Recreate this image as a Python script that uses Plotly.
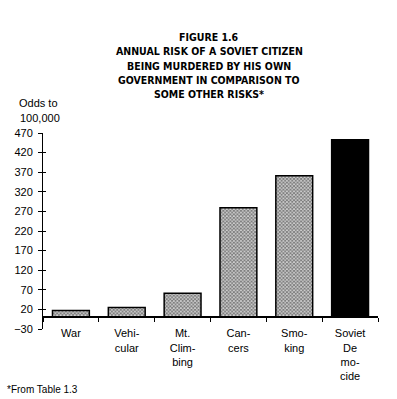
import plotly.graph_objects as go

categories = ["War", "Vehicular", "Mt. Climbing", "Cancers", "Smoking", "Soviet Democide"]
tick_labels = ["War", "Vehi-<br>cular", "Mt.<br>Clim-<br>bing", "Can-<br>cers", "Smo-<br>king", "Soviet<br>De<br>mo-<br>cide"]
values = [17, 25, 61, 279, 361, 453]
y_ticks = [-30, 20, 70, 120, 170, 220, 270, 320, 370, 420, 470]
title_lines = ["FIGURE 1.6", "ANNUAL RISK OF A SOVIET CITIZEN", "BEING MURDERED BY HIS OWN",
               "GOVERNMENT IN COMPARISON TO", "SOME OTHER RISKS*"]

W, H = 397, 399
L, R, T, B = 43, 19, 133, 70
plot_h = H - T - B
plot_w = W - L - R

def py(y_px):
    return (H - B - y_px) / plot_h

def px(x_px):
    return (x_px - L) / plot_w

ymin, ymax = -30, 470
font = "Liberation Sans, Arial, sans-serif"

pattern_bars = go.Bar(
    x=categories[:5], y=values[:5], width=0.66,
    marker=dict(color="white", line=dict(color="black", width=1.5),
                pattern=dict(shape="x", size=2.5, solidity=0.75, fgcolor="black", bgcolor="white")),
    showlegend=False, hoverinfo="skip")
solid_bar = go.Bar(
    x=categories[5:], y=values[5:], width=0.66,
    marker=dict(color="black", line=dict(color="black", width=1.5)),
    showlegend=False, hoverinfo="skip")
ghost = go.Scatter(x=[categories[0]], y=[ymin], yaxis="y2", mode="markers",
                   marker=dict(opacity=0), showlegend=False, hoverinfo="skip")

fig = go.Figure([pattern_bars, solid_bar, ghost])

fig.update_layout(
    width=W, height=H, margin=dict(l=L, r=R, t=T, b=B),
    paper_bgcolor="white", plot_bgcolor="white",
    barmode="overlay",
    font=dict(family=font, size=11, color="black"),
    xaxis=dict(type="category", categoryorder="array", categoryarray=categories,
               tickvals=categories, ticktext=tick_labels, tickson="boundaries",
               ticks="outside", ticklen=4, tickwidth=1, tickcolor="black",
               ticklabelstandoff=6,
               showline=True, linecolor="black", linewidth=2, showgrid=False,
               anchor="free", position=(0 - ymin) / (ymax - ymin),
               range=[-0.5, 5.5], tickfont=dict(size=11)),
    yaxis=dict(range=[ymin, ymax], tickvals=y_ticks, ticks="outside", ticklen=4,
               tickwidth=1, tickcolor="black", showline=True, linecolor="black",
               linewidth=1, showgrid=False, zeroline=False, tickfont=dict(size=11),
               ticklabelstandoff=3),
    yaxis2=dict(range=[ymin, ymax], overlaying="y", side="left", tickvals=y_ticks,
                ticks="inside", ticklen=3, tickwidth=1, tickcolor="black",
                showticklabels=False, showline=False, showgrid=False, zeroline=False),
)

for i, line in enumerate(title_lines):
    fig.add_annotation(text=line, x=px(209), y=py(37 + i * 14.3), xref="paper", yref="paper",
                       showarrow=False, xanchor="center", yanchor="middle",
                       font=dict(family="DejaVu Sans Condensed, DejaVu Sans, sans-serif",
                                 size=10.5, color="black", weight="bold"))

fig.add_annotation(text="Odds to", x=px(38), y=py(103), xref="paper", yref="paper",
                   showarrow=False, xanchor="center", yanchor="middle", font=dict(size=11))
fig.add_annotation(text="100,000", x=px(40), y=py(118), xref="paper", yref="paper",
                   showarrow=False, xanchor="center", yanchor="middle", font=dict(size=11))
fig.add_annotation(text="*From Table 1.3", x=px(5), y=py(389), xref="paper", yref="paper",
                   showarrow=False, xanchor="left", yanchor="middle", font=dict(size=10))

fig.write_html("out.html", config={"displayModeBar": False},
               post_script="document.body.style.margin='0';document.body.style.padding='0';")
